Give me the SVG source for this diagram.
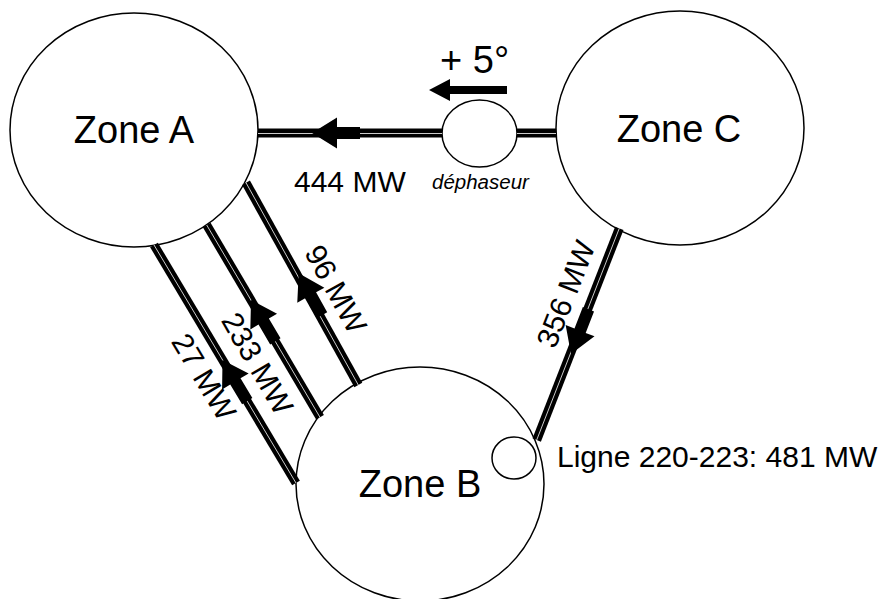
<svg xmlns="http://www.w3.org/2000/svg" xmlns:xlink="http://www.w3.org/1999/xlink" width="888" height="599" viewBox="0 0 888 599">
<style>
  .zone { fill:#fff; stroke:#000; stroke-width:1.5; }
  .ztxt { font-family:"Liberation Sans", Arial, sans-serif; font-size:38px; fill:#000; text-anchor:middle; }
  .lbl { font-family:"Liberation Sans", Arial, sans-serif; font-size:30px; fill:#000; }
  .ln { stroke:#000; stroke-width:9; stroke-linecap:butt; fill:none; }
  .lw { stroke:#fff; stroke-width:0.8; fill:none; }
  .arr { fill:#000; stroke:none; }
</style>
<defs>
  <path id="arrow" d="M0,0 L-25,-15.5 L-25,-6 L-48,-6 L-48,6 L-25,6 L-25,15.5 Z"/>
</defs>
<rect x="0" y="0" width="888" height="599" fill="#fff"/>

<g id="zoneA">
  <ellipse class="zone" cx="134" cy="130" rx="124" ry="117"/>
  <text class="ztxt" x="134" y="143">Zone A</text>
</g>
<g id="zoneC">
  <ellipse class="zone" cx="680" cy="128" rx="124" ry="117"/>
  <text class="ztxt" x="679" y="142">Zone C</text>
</g>
<g id="zoneB">
  <ellipse class="zone" cx="420" cy="484" rx="124" ry="117"/>
  <text class="ztxt" x="420" y="497">Zone B</text>
</g>
<g id="ligne">
  <ellipse class="zone" cx="514" cy="458" rx="22" ry="21"/>
  <text class="lbl" x="557" y="467">Ligne 220-223: 481 MW</text>
</g>
<g id="dephaseur">
  <ellipse class="zone" cx="479.5" cy="133.5" rx="37.5" ry="33.5"/>
  <text x="432" y="189" font-family="Liberation Sans, Arial, sans-serif" font-size="20.5" font-style="italic">déphaseur</text>
</g>

<g id="connectors">
  <line class="ln" x1="258" y1="133" x2="442" y2="133"/>
  <line class="lw" x1="258" y1="133.5" x2="442" y2="133.5"/>
  <line class="ln" x1="517" y1="133" x2="556" y2="133"/>
  <line class="lw" x1="517" y1="133.5" x2="556" y2="133.5"/>
  <line class="ln" x1="154" y1="245" x2="296" y2="483"/>
  <line class="lw" x1="154" y1="245" x2="296" y2="483"/>
  <line class="ln" x1="206.7" y1="225" x2="320" y2="417.3"/>
  <line class="lw" x1="206.7" y1="225" x2="320" y2="417.3"/>
  <line class="ln" x1="246" y1="182.7" x2="358.3" y2="385"/>
  <line class="lw" x1="246" y1="182.7" x2="358.3" y2="385"/>
  <line class="ln" x1="619.3" y1="228.3" x2="536.7" y2="440"/>
  <line class="lw" x1="619.3" y1="228.3" x2="536.7" y2="440"/>
  <use xlink:href="#arrow" class="arr" transform="translate(312,133) rotate(180)"/>
  <use xlink:href="#arrow" class="arr" transform="translate(298.7,273.3) rotate(-119)"/>
  <use xlink:href="#arrow" class="arr" transform="translate(251,300) rotate(-120.5)"/>
  <use xlink:href="#arrow" class="arr" transform="translate(222.5,360) rotate(-121)"/>
  <use xlink:href="#arrow" class="arr" transform="translate(571,354) rotate(111.3)"/>
  <polygon class="arr" points="429,90 450,79 450,86 507,86 507,94 450,94 450,101"/>
</g>

<g id="labels">
  <text class="lbl" x="294" y="192" font-size="29">444 MW</text>
  <text x="440" y="73" font-family="Liberation Sans, Arial, sans-serif" font-size="38">+ 5°</text>
  <g transform="translate(336,289) rotate(61)"><text class="lbl" x="0" y="10.5" text-anchor="middle">96 MW</text></g>
  <g transform="translate(257.5,363.3) rotate(60)"><text class="lbl" x="0" y="10.5" text-anchor="middle">233 MW</text></g>
  <g transform="translate(204,376.7) rotate(59)"><text class="lbl" x="0" y="10.5" text-anchor="middle">27 MW</text></g>
  <g transform="translate(565.7,294) rotate(-68.5)"><text class="lbl" x="0" y="10.5" text-anchor="middle">356 MW</text></g>
</g>
</svg>
